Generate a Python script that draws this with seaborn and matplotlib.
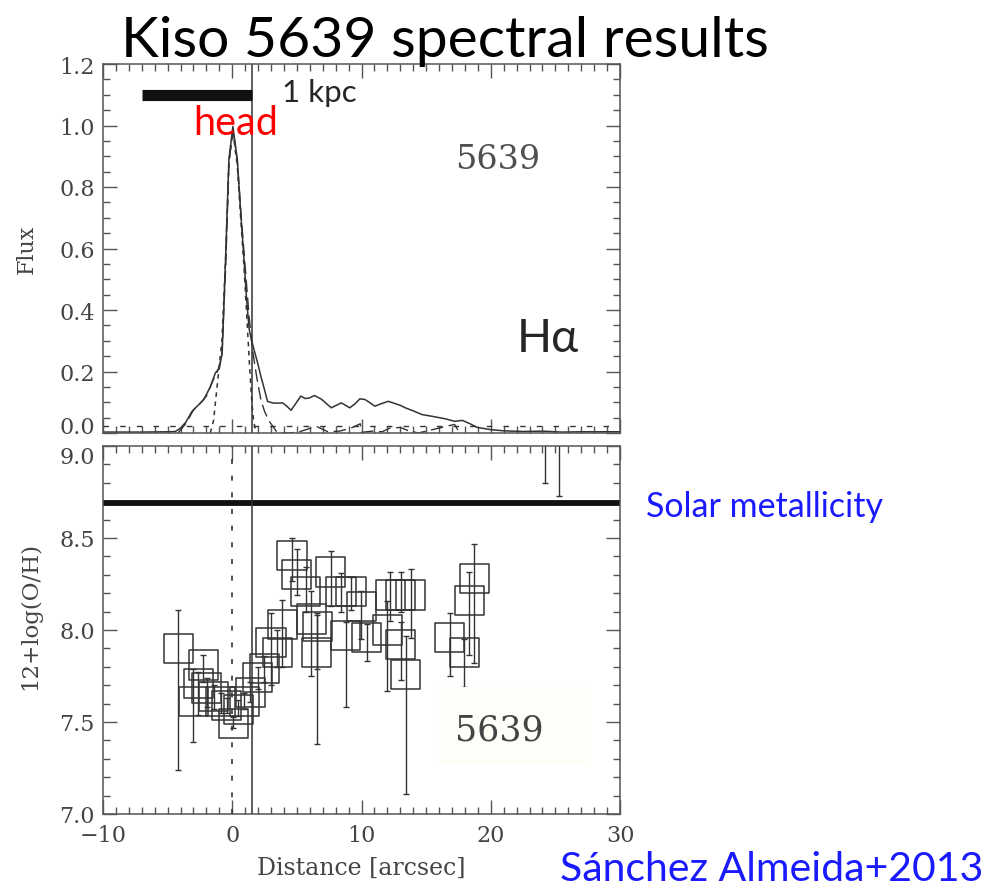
import numpy as np
import pandas as pd
import matplotlib
matplotlib.use("Agg")
import matplotlib.pyplot as plt
from matplotlib.ticker import MultipleLocator
from matplotlib.patches import Rectangle
import seaborn as sns

# ---- H-alpha flux profile along the slit (top panel) ----
dist_obs = [-10, -7, -5, -4.4, -4.0, -3.6, -3.1, -2.6, -2.2, -1.7, -1.3, -1.0, -0.78,
            -0.52, -0.26, 0.05, 0.39, 0.65, 0.91, 1.1, 1.3, 1.5, 1.69, 1.95, 2.21, 2.5,
            2.73, 3.1, 3.5, 3.9, 4.2, 4.55, 4.9, 5.3, 5.65, 5.97, 6.36, 6.9, 7.3, 7.66,
            8.05, 8.44, 9.09, 9.5, 9.87, 10.26, 10.6, 11.04, 11.5, 12.08, 12.5, 13.0,
            13.38, 14.0, 14.68, 15.5, 16.5, 17.2, 17.8, 18.4, 18.96, 20.0, 21.0, 22.5,
            24.0, 25.5, 27.0, 30.0]
flux_obs = [0.003, 0.003, 0.004, 0.005, 0.016, 0.035, 0.071, 0.092, 0.109, 0.15, 0.196,
            0.21, 0.26, 0.565, 0.89, 0.997, 0.89, 0.72, 0.565, 0.44, 0.34, 0.30, 0.27,
            0.23, 0.185, 0.14, 0.103, 0.098, 0.097, 0.098, 0.088, 0.074, 0.095, 0.12,
            0.112, 0.114, 0.122, 0.11, 0.095, 0.082, 0.09, 0.098, 0.082, 0.095, 0.111,
            0.109, 0.1, 0.087, 0.095, 0.103, 0.097, 0.09, 0.082, 0.072, 0.060, 0.054,
            0.046, 0.038, 0.041, 0.03, 0.018, 0.011, 0.007, 0.005, 0.006, 0.003, 0.004,
            0.004]

# narrow (head) component
dist_head = [-1.7, -1.45, -1.25, -1.05, -0.8, -0.52, -0.26, 0.05, 0.39, 0.65, 0.91,
             1.15, 1.35, 1.5, 1.65, 1.85]
flux_head = [0.0, 0.04, 0.12, 0.2, 0.3, 0.56, 0.88, 0.98, 0.87, 0.70, 0.54, 0.36,
             0.21, 0.11, 0.04, 0.0]

# broad component and faint tail emission
dist_wing = [-4.2, -3.6, -3.0, -2.5, -2.0, -1.5, -1.1, -0.8, -0.5, -0.25, 0.05, 0.4,
             0.7, 1.0, 1.3, 1.56, 1.9, 2.21, 2.5, 2.86, 3.0, 3.5, 4.5, 5.2, 6.0, 6.6,
             7.4, 8.3, 9.2, 9.9, 10.0, 10.8, 11.6, 12.2, 13.0, 13.6, 14.4, 15.2, 16.2,
             17.2, 17.6]
flux_wing = [0.0, 0.03, 0.075, 0.095, 0.12, 0.17, 0.205, 0.25, 0.55, 0.88, 0.99, 0.88,
             0.70, 0.54, 0.38, 0.272, 0.18, 0.109, 0.07, 0.038, 0.03, 0.0, 0.0, 0.004,
             0.015, 0.02, 0.004, 0.006, 0.016, 0.03, 0.002, 0.006, 0.004, 0.016, 0.018,
             0.008, 0.0, 0.008, 0.018, 0.028, 0.0]

sky_level = 0.022
head_edge = 1.5          # arcsec, edge of the head region
scale_bar = [-7.0, 1.5]  # 1 kpc in arcsec
scale_bar_y = 1.1

# ---- oxygen abundance along the slit (bottom panel) ----
dist_oh = [-4.17, -3.03, -2.64, -2.25, -1.99, -1.42, -0.90, -0.43, 0.07, 0.48, 0.92,
           1.39, 1.96, 2.48, 3.00, 3.47, 3.86, 4.62, 4.98, 5.68, 6.12, 6.57, 6.52, 7.63,
           8.41, 9.19, 9.97, 8.78, 10.42, 11.98, 12.24, 13.02, 13.80, 13.02, 13.41,
           16.84, 17.96, 18.35, 18.74, 24.2, 25.3]
oh = [7.90, 7.61, 7.71, 7.81, 7.685, 7.64, 7.61, 7.59, 7.49, 7.57, 7.61, 7.66, 7.74,
      7.79, 7.93, 7.88, 8.03, 8.405, 8.30, 8.21, 8.06, 8.02, 7.88, 8.315, 8.21, 8.21,
      8.13, 7.97, 7.96, 8.00, 8.19, 8.19, 8.19, 7.92, 7.76, 7.96, 7.88, 8.16, 8.28,
      9.12, 9.10]
oh_hi = [8.11, 7.79, 7.77, 7.865, 7.74, 7.70, 7.66, 7.63, 7.528, 7.62, 7.66, 7.72,
         7.80, 7.86, 8.095, 8.00, 8.162, 8.50, 8.44, 8.34, 8.21, 8.09, 8.08, 8.43, 8.31,
         8.29, 8.21, 8.045, 8.03, 8.155, 8.315, 8.315, 8.333, 8.045, 7.97, 8.095, 7.95,
         8.315, 8.47, 9.25, 9.25]
oh_lo = [7.24, 7.39, 7.54, 7.72, 7.58, 7.57, 7.55, 7.55, 7.465, 7.53, 7.57, 7.61, 7.68,
         7.72, 7.70, 7.80, 7.80, 8.267, 8.19, 8.10, 7.75, 7.38, 7.79, 8.13, 8.10, 8.11,
         7.95, 7.58, 7.83, 7.67, 8.05, 8.10, 7.955, 7.726, 7.11, 7.75, 7.69, 7.865,
         7.82, 8.80, 8.73]
solar_oh = 8.69

x_ticks = [-10, 0, 10, 20, 30]
flux_ticks = [0.0, 0.2, 0.4, 0.6, 0.8, 1.0, 1.2]
oh_ticks = [7.0, 7.5, 8.0, 8.5, 9.0]

# ------------------------------------------------------------------
sns.set_theme(style="ticks")
plt.rcParams["font.family"] = ["DejaVu Serif"]

W, H = 1005, 887
fig = plt.figure(figsize=(W / 100, H / 100), dpi=100)
fig.patch.set_facecolor("white")


def fx(px):
    return px / W


def fy(py):
    return 1 - py / H


left, right = 103, 620
ax1 = fig.add_axes([fx(left), fy(434), fx(right - left), (434 - 65) / H])
ax2 = fig.add_axes([fx(left), fy(815), fx(right - left), (815 - 447) / H])

ink = "#333333"
frame = "#555555"
lab = "#444444"

# top panel curves
prof = pd.DataFrame({"d": dist_obs, "f": flux_obs})
head = pd.DataFrame({"d": dist_head, "f": flux_head})
wing = pd.DataFrame({"d": dist_wing, "f": flux_wing})
sns.lineplot(data=prof, x="d", y="f", ax=ax1, color=ink, lw=1.1, estimator=None, sort=False)
sns.lineplot(data=head, x="d", y="f", ax=ax1, color=ink, lw=1.1, estimator=None,
             sort=False, linestyle=(0, (3, 3)))
sns.lineplot(data=wing, x="d", y="f", ax=ax1, color=ink, lw=1.0, estimator=None,
             sort=False, linestyle=(0, (9, 4)))
ax1.axhline(sky_level, color=ink, lw=1.0, linestyle=(0, (4, 8)))
ax1.axvline(head_edge, color=ink, lw=1.1)
ax1.plot(scale_bar, [scale_bar_y, scale_bar_y], color="#111111", lw=8,
         solid_capstyle="butt")

ax1.set_xlim(-10, 30)
ax1.set_ylim(0.0, 1.2)
ax1.set_yticks(flux_ticks)
ax1.set_yticklabels([f"{v:.1f}" for v in flux_ticks])
ax1.set_xticks(x_ticks)
ax1.set_xticklabels([])
ax1.set_xlabel("")
ax1.set_ylabel("Flux", fontsize=16, color=lab)
ax1.yaxis.set_label_coords(-(103 - 38) / (right - left), 0.5)
ax1.yaxis.set_minor_locator(MultipleLocator(0.05))

# bottom panel
ax2.axhline(solar_oh, color="#111111", lw=4.2)
ax2.axvline(0.0, color=ink, lw=1.2, linestyle=(0, (3, 7)))
ax2.axvline(head_edge, color=ink, lw=1.1)
ax2.errorbar(dist_oh, oh,
             yerr=[np.array(oh) - np.array(oh_lo), np.array(oh_hi) - np.array(oh)],
             fmt="none", ecolor=ink, elinewidth=1.0, capsize=2.2, capthick=1.0)
abund = pd.DataFrame({"d": dist_oh, "oh": oh})
sns.scatterplot(data=abund, x="d", y="oh", ax=ax2, marker="s", s=440,
                facecolor="none", edgecolor=ink, linewidth=1.1, zorder=3)
ax2.set_xlim(-10, 30)
ax2.set_ylim(7.0, 9.0)
ax2.set_xticks(x_ticks)
ax2.set_xticklabels([str(v) if v >= 0 else "\u2212" + str(-v) for v in x_ticks])
ax2.set_yticks(oh_ticks)
ax2.set_yticklabels([f"{v:.1f}" for v in oh_ticks])
ax2.yaxis.set_minor_locator(MultipleLocator(0.1))
ax2.set_xlabel("Distance [arcsec]", fontsize=17, color=lab, labelpad=7)
ax2.set_ylabel("12+log(O/H)", fontsize=16.5, color=lab)
ax2.yaxis.set_label_coords(-(103 - 41) / (right - left), (815 - 616) / (815 - 447))

for ax in (ax1, ax2):
    ax.xaxis.set_minor_locator(MultipleLocator(1))
    ax.tick_params(which="both", direction="in", top=True, right=True, color=frame,
                   width=1.0, labelsize=16, labelcolor=lab, pad=6)
    ax.tick_params(which="major", length=10)
    ax.tick_params(which="minor", length=5)
    for sp in ax.spines.values():
        sp.set_color(frame)
        sp.set_linewidth(1.1)
    ax.set_facecolor("white")
ax2.tick_params(axis="x", which="major", pad=7)

# keep the labels at the junction of the two panels apart
ax1.get_yticklabels()[0].set_verticalalignment("baseline")
ax2.get_yticklabels()[-1].set_verticalalignment("top")

# faint panel box behind the bottom label
fig.patches.append(Rectangle((fx(438), fy(765)), fx(590 - 438), (765 - 688) / H,
                             transform=fig.transFigure, facecolor="#fefef8",
                             edgecolor="none", zorder=1))

# annotations
sans = ["Lato", "DejaVu Sans"]
fig.text(fx(445), fy(57), "Kiso 5639 spectral results", fontsize=41, family=sans,
         ha="center", va="baseline", color="black")
fig.text(fx(282), fy(102), "1 kpc", fontsize=22.5, family=sans, va="baseline")
fig.text(fx(193), fy(135), "head", fontsize=28.5, family=sans, va="baseline", color="red")
fig.text(fx(455), fy(169), "5639", fontsize=24, va="baseline", color="#505050")
fig.text(fx(517), fy(352), "H\u03b1", fontsize=33, family=sans, va="baseline")
fig.text(fx(455), fy(741), "5639", fontsize=25, va="baseline", color="#444444", zorder=5)
fig.text(fx(646), fy(517), "Solar metallicity", fontsize=24.5, family=sans,
         va="baseline", color="#1a1aff")
fig.text(fx(560), fy(881), "S\u00e1nchez Almeida+2013", fontsize=29.5, family=sans,
         va="baseline", color="#1a1aff")

fig.savefig("out.png", dpi=100)
